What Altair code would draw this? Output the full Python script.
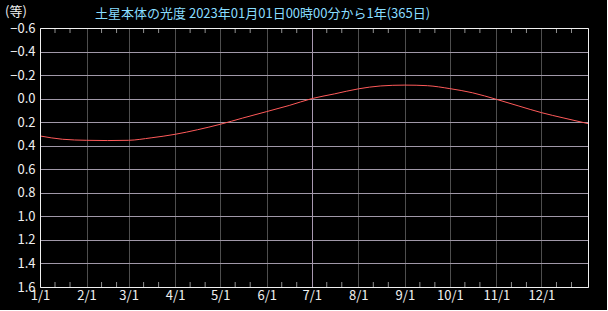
import altair as alt
import pandas as pd

title_text = "土星本体の光度  2023年01月01日00時00分から1年(365日)"
unit_text = "(等)"

# day index from 2023-01-01 and visual magnitude of Saturn (body)
days = [0, 15, 31, 45, 59, 74, 90, 105, 120, 135, 151, 166, 181, 196, 212,
        227, 243, 258, 273, 288, 304, 319, 334, 349, 365]
mags = [0.317, 0.345, 0.354, 0.356, 0.354, 0.333, 0.303, 0.264, 0.218, 0.165,
        0.110, 0.058, 0.0, -0.040, -0.083, -0.108, -0.115, -0.110, -0.085,
        -0.050, 0.006, 0.063, 0.119, 0.165, 0.212]

month_days = [0, 31, 59, 90, 120, 151, 181, 212, 243, 273, 304, 334]
month_labels = ["1/1", "2/1", "3/1", "4/1", "5/1", "6/1", "7/1", "8/1",
                "9/1", "10/1", "11/1", "12/1"]
minor_days = [10, 20, 41, 51, 69, 79, 100, 110, 130, 140, 161, 171, 191, 201,
              222, 232, 253, 263, 283, 293, 314, 324, 344, 354]
y_ticks = [-0.6, -0.4, -0.2, 0.0, 0.2, 0.4, 0.6, 0.8, 1.0, 1.2, 1.4, 1.6]

W, H = 548, 259
FONT = "Noto Sans CJK JP"

df = pd.DataFrame({"day": days, "mag": mags})
minor_df = pd.DataFrame({"day": minor_days})
one = pd.DataFrame({"k": [0]})

label_expr = ("[" + ",".join(f"'{l}'" for l in month_labels) + "][indexof(["
              + ",".join(str(d) for d in month_days) + "], datum.value)]")

xscale = alt.Scale(domain=[0, 365], nice=False, zero=False)
yscale = alt.Scale(domain=[-0.6, 1.6], reverse=True, nice=False, zero=False)

x_axis = alt.Axis(
    values=month_days, labelExpr=label_expr, title=None, ticks=False,
    domain=False, grid=True,
    gridColor={"condition": {"test": "datum.value === 181", "value": "#a898b0"},
               "value": "#4e4e4e"},
    labelColor="#f0f0f0", labelFontSize=13, labelFont=FONT, labelPadding=2,
    labelFlush=False, labelOverlap=False, labelBaseline="top",
)
y_axis = alt.Axis(
    values=y_ticks, format=".1f", title=None, ticks=False, domain=False,
    grid=True, gridColor="#a098a8", labelColor="#f0f0f0", labelFontSize=13,
    labelFont=FONT, labelPadding=5, labelOverlap=False,
)

line = alt.Chart(df).mark_line(
    color="#ff5a5a", strokeWidth=1, interpolate="monotone"
).encode(
    x=alt.X("day:Q", scale=xscale, axis=x_axis),
    y=alt.Y("mag:Q", scale=yscale, axis=y_axis),
)

top_ticks = alt.Chart(minor_df).mark_rule(color="#909090", strokeWidth=1).encode(
    x=alt.X("day:Q", scale=xscale, axis=x_axis),
    y=alt.value(0), y2=alt.value(5),
)
bottom_ticks = alt.Chart(minor_df).mark_rule(color="#909090", strokeWidth=1).encode(
    x=alt.X("day:Q", scale=xscale, axis=x_axis),
    y=alt.value(H - 5), y2=alt.value(H),
)

frame = alt.Chart(one).mark_rect(
    fillOpacity=0, stroke="#f0f0f0", strokeWidth=1
).encode(
    x=alt.value(0.5), x2=alt.value(W + 0.5),
    y=alt.value(0.5), y2=alt.value(H + 0.5),
)

title = alt.Chart(one).mark_text(
    text=title_text, align="left", baseline="middle", color="#88ddff",
    fontSize=13, font=FONT,
).encode(x=alt.value(55), y=alt.value(-14))

unit = alt.Chart(one).mark_text(
    text=unit_text, align="left", baseline="middle", color="#f0f0f0",
    fontSize=13, font=FONT,
).encode(x=alt.value(-35), y=alt.value(-16))

chart = alt.layer(line, top_ticks, bottom_ticks, frame, title, unit).properties(
    width=W, height=H,
    autosize=alt.AutoSizeParams(type="none"),
    padding={"left": 40, "top": 28, "right": 19, "bottom": 23},
    background="#000000",
).configure_view(stroke=None)

chart.save("out.html", embed_options={"renderer": "svg", "actions": False})
